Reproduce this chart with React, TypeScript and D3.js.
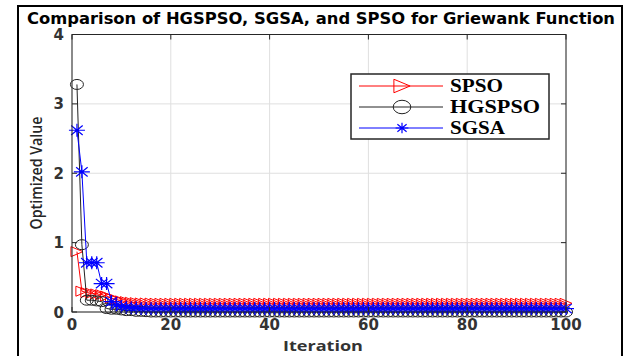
import React from "react";
import * as d3 from "d3";

const TITLE = "Comparison of HGSPSO, SGSA, and SPSO for Griewank Function";
const X_LABEL = "Iteration";
const Y_LABEL = "Optimized Value";
const X_TICKS = [0, 20, 40, 60, 80, 100];
const Y_TICKS = [0, 1, 2, 3, 4];
const SERIES_NAMES = ["SPSO", "HGSPSO", "SGSA"];

const SPSO = [
  0.87, 0.3, 0.28, 0.27, 0.26, 0.25, 0.23, 0.2, 0.18, 0.16,
  0.15, 0.14, 0.135, 0.13, 0.13, 0.128, 0.126, 0.125, 0.125, 0.125,
  0.125, 0.125, 0.125, 0.125, 0.125, 0.125, 0.125, 0.125, 0.125, 0.125,
  0.125, 0.125, 0.125, 0.125, 0.125, 0.125, 0.125, 0.125, 0.125, 0.125,
  0.125, 0.125, 0.125, 0.125, 0.125, 0.125, 0.125, 0.125, 0.125, 0.125,
  0.125, 0.125, 0.125, 0.125, 0.125, 0.125, 0.125, 0.125, 0.125, 0.125,
  0.125, 0.125, 0.125, 0.125, 0.125, 0.125, 0.125, 0.125, 0.125, 0.125,
  0.125, 0.125, 0.125, 0.125, 0.125, 0.125, 0.125, 0.125, 0.125, 0.125,
  0.125, 0.125, 0.125, 0.125, 0.125, 0.125, 0.125, 0.125, 0.125, 0.125,
  0.125, 0.125, 0.125, 0.125, 0.125, 0.125, 0.125, 0.125, 0.125, 0.125,
];

const HGSPSO = [
  3.28, 0.97, 0.17, 0.17, 0.16, 0.15, 0.05, 0.04, 0.04, 0.03,
  0.02, 0.02, 0.01, 0.01, 0.005, 0.0, 0.0, 0.0, 0.0, 0.0,
  0.0, 0.0, 0.0, 0.0, 0.0, 0.0, 0.0, 0.0, 0.0, 0.0,
  0.0, 0.0, 0.0, 0.0, 0.0, 0.0, 0.0, 0.0, 0.0, 0.0,
  0.0, 0.0, 0.0, 0.0, 0.0, 0.0, 0.0, 0.0, 0.0, 0.0,
  0.0, 0.0, 0.0, 0.0, 0.0, 0.0, 0.0, 0.0, 0.0, 0.0,
  0.0, 0.0, 0.0, 0.0, 0.0, 0.0, 0.0, 0.0, 0.0, 0.0,
  0.0, 0.0, 0.0, 0.0, 0.0, 0.0, 0.0, 0.0, 0.0, 0.0,
  0.0, 0.0, 0.0, 0.0, 0.0, 0.0, 0.0, 0.0, 0.0, 0.0,
  0.0, 0.0, 0.0, 0.0, 0.0, 0.0, 0.0, 0.0, 0.0, 0.0,
];

const SGSA = [
  2.62, 2.02, 0.71, 0.71, 0.71, 0.41, 0.41, 0.15, 0.1, 0.08,
  0.07, 0.06, 0.06, 0.05, 0.05, 0.05, 0.05, 0.05, 0.05, 0.05,
  0.05, 0.05, 0.05, 0.05, 0.05, 0.05, 0.05, 0.05, 0.05, 0.05,
  0.05, 0.05, 0.05, 0.05, 0.05, 0.05, 0.05, 0.05, 0.05, 0.05,
  0.05, 0.05, 0.05, 0.05, 0.05, 0.05, 0.05, 0.05, 0.05, 0.05,
  0.05, 0.05, 0.05, 0.05, 0.05, 0.05, 0.05, 0.05, 0.05, 0.05,
  0.05, 0.05, 0.05, 0.05, 0.05, 0.05, 0.05, 0.05, 0.05, 0.05,
  0.05, 0.05, 0.05, 0.05, 0.05, 0.05, 0.05, 0.05, 0.05, 0.05,
  0.05, 0.05, 0.05, 0.05, 0.05, 0.05, 0.05, 0.05, 0.05, 0.05,
  0.05, 0.05, 0.05, 0.05, 0.05, 0.05, 0.05, 0.05, 0.05, 0.05,
];

const W = 634;
const H = 356;
const M = { left: 72, right: 566, top: 34.5, bottom: 312 };

type MarkerKind = "tri" | "circle" | "star";

function Marker({ kind, x, y, color, s = 1 }: { kind: MarkerKind; x: number; y: number; color: string; s?: number }) {
  if (kind === "tri") {
    const hw = 6 * s, hh = 5 * s;
    return <path d={`M${x - hw},${y - hh}L${x + hw},${y}L${x - hw},${y + hh}Z`} fill="none" stroke={color} strokeWidth={1} />;
  }
  if (kind === "circle") {
    return <ellipse cx={x} cy={y} rx={6.5 * s} ry={5 * s} fill="none" stroke={color} strokeWidth={1} />;
  }
  const a = 8 * s, b = 6.5 * s;
  const da = a * 0.72, db = b * 0.72;
  return (
    <path
      d={`M${x - a},${y}L${x + a},${y}M${x},${y - b}L${x},${y + b}M${x - da},${y - db}L${x + da},${y + db}M${x - da},${y + db}L${x + da},${y - db}`}
      stroke={color}
      strokeWidth={1.2}
      fill="none"
    />
  );
}

export default function App() {
  const x = d3.scaleLinear().domain([0, 100]).range([M.left, M.right]);
  const y = d3.scaleLinear().domain([0, 4]).range([M.bottom, M.top]);
  const series = [
    { name: SERIES_NAMES[0], data: SPSO, color: "#ff0000", kind: "tri" as MarkerKind },
    { name: SERIES_NAMES[1], data: HGSPSO, color: "#222222", kind: "circle" as MarkerKind },
    { name: SERIES_NAMES[2], data: SGSA, color: "#0000ff", kind: "star" as MarkerKind },
  ];
  const line = d3
    .line<number>()
    .x((_, i) => x(i + 1))
    .y((d) => y(d));
  const tickFont = "'DejaVu Sans', sans-serif";
  const legendY = [86, 107, 128];
  const legendTextY = [92, 113, 134];
  const legendWidths = [53, 90, 55];

  return (
    <svg width={W} height={H} style={{ position: "absolute", left: 0, top: 0, background: "#fff" }}>
      <rect x={0} y={0} width={W} height={H} fill="#fff" />
      <rect x={18} y={6} width={604} height={370} fill="none" stroke="#000" strokeWidth={2} />
      {/* grid */}
      {X_TICKS.map((t) => (
        <line key={"gx" + t} x1={x(t)} x2={x(t)} y1={M.top} y2={M.bottom} stroke="#dfdfdf" strokeWidth={1} />
      ))}
      {Y_TICKS.map((t) => (
        <line key={"gy" + t} x1={M.left} x2={M.right} y1={y(t)} y2={y(t)} stroke="#dfdfdf" strokeWidth={1} />
      ))}
      {/* series */}
      {series.map((s) => (
        <g key={s.name}>
          <path d={line(s.data) || ""} fill="none" stroke={s.color} strokeWidth={1} />
          {s.data.map((v, i) => (
            <Marker key={i} kind={s.kind} x={x(i + 1)} y={y(v)} color={s.color} />
          ))}
        </g>
      ))}
      {/* axes box */}
      <rect x={M.left} y={M.top} width={M.right - M.left} height={M.bottom - M.top} fill="none" stroke="#262626" strokeWidth={1} />
      {X_TICKS.map((t) => (
        <g key={"tx" + t}>
          <line x1={x(t)} x2={x(t)} y1={M.bottom} y2={M.bottom - 5} stroke="#262626" />
          <line x1={x(t)} x2={x(t)} y1={M.top} y2={M.top + 5} stroke="#262626" />
          <text x={x(t)} y={330} textAnchor="middle" fontFamily={tickFont} fontWeight="bold" fontSize={15} fill="#333">
            {t}
          </text>
        </g>
      ))}
      {Y_TICKS.map((t) => (
        <g key={"ty" + t}>
          <line x1={M.left} x2={M.left + 5} y1={y(t)} y2={y(t)} stroke="#262626" />
          <line x1={M.right} x2={M.right - 5} y1={y(t)} y2={y(t)} stroke="#262626" />
          <text x={64} y={y(t) + 5.5} textAnchor="end" fontFamily={tickFont} fontWeight="bold" fontSize={15} fill="#333">
            {t}
          </text>
        </g>
      ))}
      {/* title */}
      <text x={27} y={24} fontFamily={tickFont} fontWeight="bold" fontSize={16} fill="#000" textLength={588} lengthAdjust="spacingAndGlyphs">
        {TITLE}
      </text>
      {/* axis labels */}
      <text x={283} y={351} fontFamily="'Open Sans', sans-serif" fontWeight="bold" fontSize={15} fill="#333" textLength={80} lengthAdjust="spacingAndGlyphs">
        {X_LABEL}
      </text>
      <text
        transform={`translate(42,${173 + 56.5}) rotate(-90)`}
        fontFamily="'Open Sans', sans-serif"
        fontWeight={600}
        fontSize={17}
        fill="#262626"
        textLength={113}
        lengthAdjust="spacingAndGlyphs"
      >
        {Y_LABEL}
      </text>
      {/* legend */}
      <rect x={351} y={74} width={198} height={65} fill="#fff" stroke="#262626" strokeWidth={1.5} />
      {series.map((s, i) => (
        <g key={"lg" + s.name}>
          <line x1={359} x2={443} y1={legendY[i]} y2={legendY[i]} stroke={s.color} strokeWidth={1} />
          <Marker kind={s.kind} x={402} y={legendY[i]} color={s.color} s={s.kind === "star" ? 0.8 : 1.35} />
          <text
            x={450}
            y={legendTextY[i]}
            fontFamily="'Liberation Serif', 'Times New Roman', serif"
            fontWeight="bold"
            fontSize={18}
            fill="#000"
            textLength={legendWidths[i]}
            lengthAdjust="spacingAndGlyphs"
          >
            {s.name}
          </text>
        </g>
      ))}
    </svg>
  );
}
